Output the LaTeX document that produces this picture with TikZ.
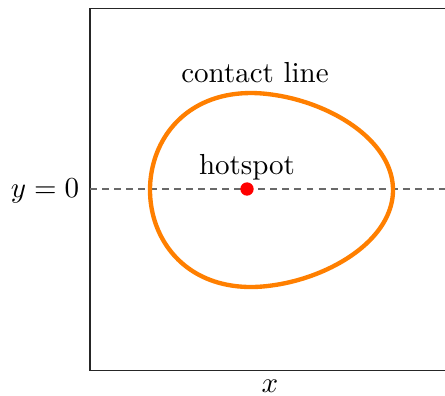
\documentclass[tikz,border=0pt]{standalone}
\definecolor{contourorange}{RGB}{255,127,0}
\definecolor{dashgray}{RGB}{105,105,105}
\definecolor{dotred}{RGB}{255,0,0}
\begin{document}
\begin{tikzpicture}[x=0.345pt, y=-0.345pt,
  frame/.style={line width=0.4pt, black!85},
  zeroline/.style={dash pattern=on 2.4pt off 1.75pt, line width=0.65pt, dashgray},
  contour/.style={line width=1.5pt, contourorange, line join=round},
  hotdot/.style={circle, fill=dotred, inner sep=0pt, minimum size=4.6pt},
  lbl/.style={anchor=base, inner sep=0pt}]
\useasboundingbox (0,0) rectangle (445,395);
% frame (right side clipped)
\coordinate (tr) at (445,8.5);
\coordinate (tl) at (90,8.5);
\coordinate (bl) at (90,370.5);
\coordinate (br) at (445,370.5);
\draw[frame] (tr) -- (tl) -- (bl) -- (br);
% y = 0 line
\coordinate (zl) at (90,189);
\coordinate (zr) at (445,189);
\draw[zeroline] (zl) -- (zr);
% contact line (egg-shaped closed curve)
\draw[contour] plot[domain=0:360, samples=181, variable=\t]
  ({271.5+121.5*cos(\t)+8*max(cos(\t),0)*sin(\t)*sin(\t)},
   {190+95.5*sin(\t)*(1-0.18*cos(\t))}) -- cycle;
% hotspot
\node[hotdot] (hs) at (247,189) {};
\node[lbl] (hslabel) at (247,174) {hotspot};
\node[lbl] (cllabel) at (255,82) {contact line};
\node[lbl] (ylabel) at (45,197) {$y=0$};
\node[lbl] (xlabel) at (270,392) {$x$};
\end{tikzpicture}
\end{document}
